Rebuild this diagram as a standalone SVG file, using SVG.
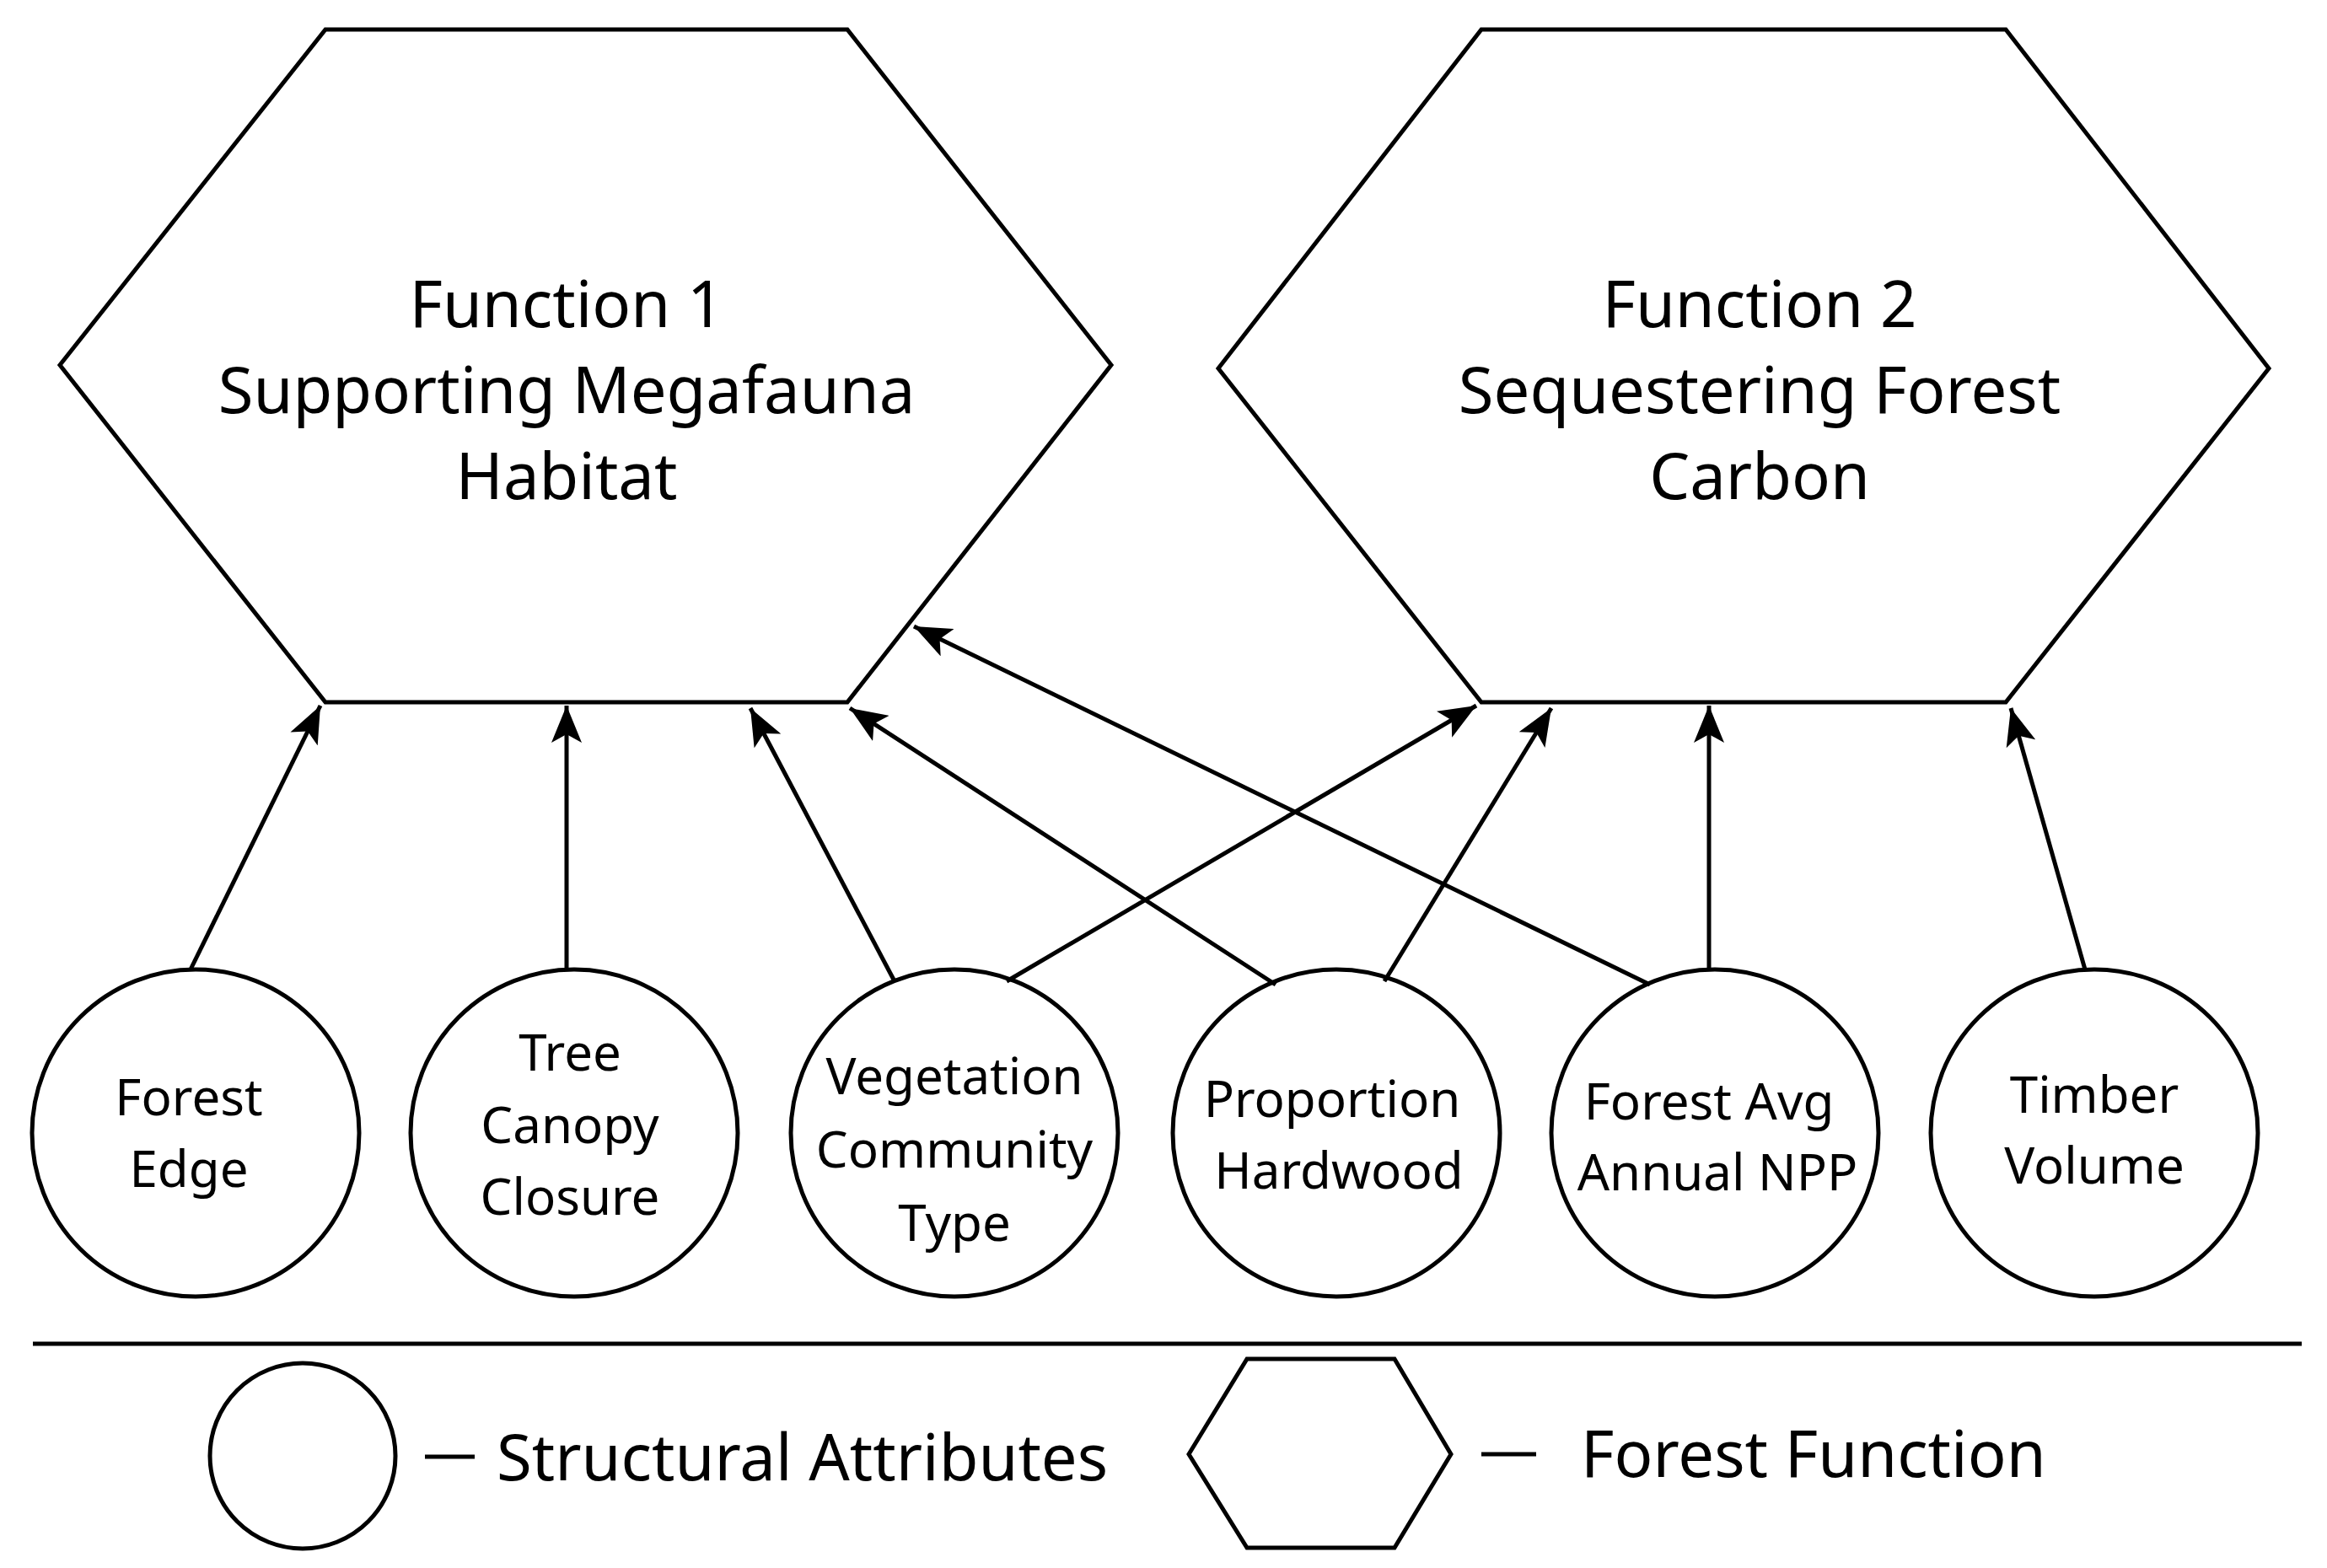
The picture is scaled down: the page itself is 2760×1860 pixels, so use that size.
<svg xmlns="http://www.w3.org/2000/svg" width="2760" height="1860" viewBox="0 0 2760 1860">
<style>
.s{fill:#fff;stroke:#000;stroke-width:5}
.t{font-family:"Noto Sans","Liberation Sans",sans-serif;text-anchor:middle;fill:#000}
.h{font-size:76px}
.c{font-size:60px}
.e{stroke:#000;stroke-width:5;fill:none;marker-end:url(#a)}
</style>
<defs>
<marker id="a" markerUnits="userSpaceOnUse" markerWidth="48" markerHeight="36" refX="44" refY="18" orient="auto">
<path d="M0,0 L44,18 L0,36 L10,18 Z" fill="#000"/>
</marker>
</defs>
<rect width="2760" height="1860" fill="#fff"/>
<g id="f1"><polygon class="s" points="71,433 386,35 1005,35 1318,433 1005,833 386,833"/>
<text class="t h" x="672" y="388">Function 1</text><text class="t h" x="672" y="490">Supporting Megafauna</text><text class="t h" x="672" y="592">Habitat</text></g>
<g id="f2"><polygon class="s" points="1445,437 1757,35 2379,35 2691,437 2379,833 1757,833"/>
<text class="t h" x="2087" y="388">Function 2</text><text class="t h" x="2087" y="490">Sequestering Forest</text><text class="t h" x="2087" y="592">Carbon</text></g>
<g id="n1"><circle class="s" cx="232" cy="1344" r="194"/><text class="t c" x="224" y="1323">Forest</text><text class="t c" x="224" y="1408">Edge</text></g>
<g id="n2"><circle class="s" cx="681" cy="1344" r="194"/><text class="t c" x="676" y="1270">Tree</text><text class="t c" x="676" y="1356">Canopy</text><text class="t c" x="676" y="1441">Closure</text></g>
<g id="n3"><circle class="s" cx="1132" cy="1344" r="194"/><text class="t c" x="1132" y="1298">Vegetation</text><text class="t c" x="1132" y="1385">Community</text><text class="t c" x="1132" y="1472">Type</text></g>
<g id="n4"><circle class="s" cx="1585" cy="1344" r="194"/><text class="t c" x="1580" y="1325">Proportion</text><text class="t c" x="1588" y="1410">Hardwood</text></g>
<g id="n5"><circle class="s" cx="2034" cy="1344" r="194"/><text class="t c" x="2027" y="1328">Forest Avg</text><text class="t c" x="2037" y="1412">Annual NPP</text></g>
<g id="n6"><circle class="s" cx="2484" cy="1344" r="194"/><text class="t c" x="2484" y="1320">Timber</text><text class="t c" x="2484" y="1404">Volume</text></g>
<g id="edges">
<line class="e" x1="226" y1="1150" x2="380" y2="837"/>
<line class="e" x1="672" y1="1150" x2="672" y2="837"/>
<line class="e" x1="1061" y1="1164" x2="890" y2="840"/>
<line class="e" x1="1513" y1="1168" x2="1008" y2="840"/>
<line class="e" x1="1957" y1="1168" x2="1084" y2="743"/>
<line class="e" x1="1194" y1="1164" x2="1751" y2="837"/>
<line class="e" x1="1642" y1="1164" x2="1840" y2="840"/>
<line class="e" x1="2027" y1="1150" x2="2027" y2="837"/>
<line class="e" x1="2473" y1="1150" x2="2385" y2="840"/>
</g>
<g id="legend">
<line x1="39" y1="1594" x2="2730" y2="1594" stroke="#000" stroke-width="5"/>
<circle class="s" cx="359" cy="1727" r="110"/>
<line x1="504" y1="1728" x2="563" y2="1728" stroke="#000" stroke-width="5"/>
<text class="t h" x="589" y="1756" style="text-anchor:start">Structural Attributes</text>
<polygon class="s" points="1410,1725 1479,1612 1654,1612 1721,1725 1654,1836 1479,1836"/>
<line x1="1757" y1="1725" x2="1822" y2="1725" stroke="#000" stroke-width="5"/>
<text class="t h" x="1875" y="1752" style="text-anchor:start">Forest Function</text>
</g>
</svg>
